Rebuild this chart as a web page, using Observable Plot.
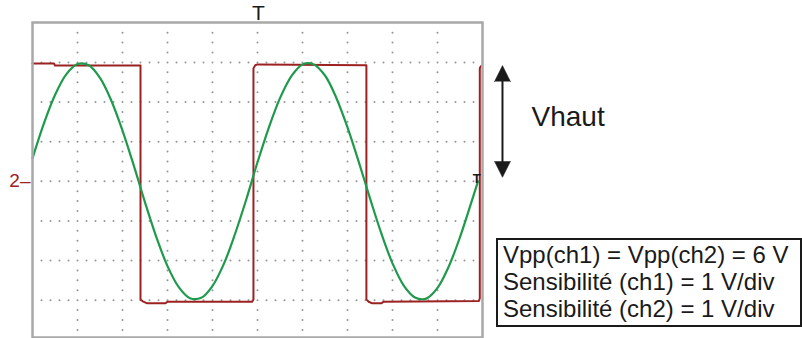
<!DOCTYPE html>
<html>
<head>
<meta charset="utf-8">
<script src="https://cdn.jsdelivr.net/npm/d3@7"></script>
<script src="https://cdn.jsdelivr.net/npm/@observablehq/plot@0.6"></script>
<style>
  html, body { margin: 0; padding: 0; background: #fff; }
  #wrap { position: relative; width: 802px; height: 338px; overflow: hidden; font-family: "Liberation Sans", Arial, sans-serif; }
  #info { position: absolute; left: 496px; top: 238px; width: 297px; height: 84px; border: 2px solid #1a1a1a;
          padding: 1px 0 0 5px; box-sizing: content-box; font-size: 24px; line-height: 27px; color: #1a1a1a; white-space: nowrap; }
</style>
</head>
<body>
<div id="wrap"></div>
<script>
// Channel 1 (square wave): time in divisions, voltage in volts (1 V/div)
const squareTime = [0, 0.48, 0.50, 2.40, 2.40, 2.45, 2.55, 2.95, 3.00, 4.88, 4.91, 4.91, 4.95, 5.00, 7.42, 7.42, 7.47, 7.55, 7.75, 7.80, 9.92, 9.94, 9.94, 9.96];
const squareVolt = [2.97, 2.97, 2.92, 2.92, -2.98, -3.03, -3.08, -3.08, -3.04, -3.04, -2.98, 2.85, 2.93, 2.95, 2.93, -2.98, -3.04, -3.08, -3.08, -3.04, -3.02, -2.95, 2.85, 2.90];

// Channel 2 (sine wave)
const sineTime = [0, 0.25, 0.5, 0.75, 1, 1.25, 1.5, 1.75, 2, 2.25, 2.5, 2.75, 3, 3.25, 3.5, 3.75, 4, 4.25, 4.5, 4.75,
                  5, 5.25, 5.5, 5.75, 6, 6.25, 6.5, 6.75, 7, 7.25, 7.5, 7.75, 8, 8.25, 8.5, 8.75, 9, 9.25, 9.5, 9.75, 9.9];
const sineVolt = [0.58, 1.45, 2.18, 2.70, 2.96, 2.93, 2.61, 2.04, 1.28, 0.40, -0.53, -1.40, -2.14, -2.67, -2.95, -2.94, -2.64, -2.09, -1.33, -0.46,
                  0.48, 1.35, 2.10, 2.65, 2.95, 2.95, 2.67, 2.11, 1.36, 0.49, -0.43, -1.31, -2.07, -2.63, -2.93, -2.96, -2.69, -2.15, -1.41, -0.54, 0.0];

// Markers and annotations
const triggerTime = [5.02];
const triggerLevel = [0];
const vhautRange = [0.10, 2.92];   // arrow from ground level to the high level
const infoLines = ["Vpp(ch1) = Vpp(ch2) = 6 V", "Sensibilité (ch1) = 1 V/div", "Sensibilité (ch2) = 1 V/div"];

const squareData = squareTime.map((t, i) => ({t, v: squareVolt[i]}));
const sineData = sineTime.map((t, i) => ({t, v: sineVolt[i]}));

// oscilloscope graticule (10 x 8 divisions)
const gridDots = [];
for (let xi = 1; xi <= 9; xi++) for (let k = -15; k <= 15; k++) gridDots.push({t: xi, v: k / 4});
for (let yi = -3; yi <= 3; yi++) for (let k = 1; k <= 49; k++) if (k % 5 !== 0) gridDots.push({t: k / 5, v: yi});

const red = "#9c2222", green = "#1f9a4c", ink = "#1a1a1a";
const arrowX = 10.444;

const chart = Plot.plot({
  width: 802,
  height: 338,
  marginLeft: 32,
  marginRight: 320,
  marginTop: 22,
  marginBottom: 1,
  x: {domain: [0, 10], axis: null},
  y: {domain: [-4, 4], range: [339.3, 22.3], axis: null},
  style: {background: "white", fontFamily: "Liberation Sans, Arial, sans-serif"},
  marks: [
    Plot.dot(gridDots, {x: "t", y: "v", r: 1, fill: "#959595", stroke: null}),
    Plot.line(squareData, {x: "t", y: "v", stroke: red, strokeWidth: 2, curve: "linear"}),
    Plot.line(sineData, {x: "t", y: "v", stroke: green, strokeWidth: 2.2, curve: "catmull-rom"}),
    Plot.frame({stroke: "#a8a8a8", strokeWidth: 2.5}),
    // trigger position marker
    Plot.text(triggerTime, {x: d => d, y: 4, text: () => "T", dy: -10, fontSize: 21, fill: ink}),
    // trigger level marker
    Plot.text(triggerLevel, {x: 9.87, y: d => d, text: () => "T", dy: -2, fontSize: 13, fill: ink, fontWeight: "bold"}),
    // channel ground marker
    Plot.text(triggerLevel, {x: 0, y: d => d, text: () => "2–", textAnchor: "end", dx: -2, dy: 0, fontSize: 19, fill: red}),
    // Vhaut double arrow
    Plot.ruleX([arrowX], {y1: vhautRange[0] + 0.3, y2: vhautRange[1] - 0.3, stroke: ink, strokeWidth: 2}),
    Plot.vector([vhautRange[1]], {x: arrowX, y: d => d, rotate: 0, shape: "spike", r: 8, length: 16, anchor: "end", fill: ink, stroke: ink, strokeWidth: 0.5}),
    Plot.vector([vhautRange[0]], {x: arrowX, y: d => d, rotate: 180, shape: "spike", r: 8, length: 16, anchor: "end", fill: ink, stroke: ink, strokeWidth: 0.5}),
    Plot.text(["Vhaut"], {frameAnchor: "top-left", dx: 499, dy: 95, textAnchor: "start", lineAnchor: "middle", fontSize: 28, fill: ink})
  ]
});

const wrap = document.getElementById("wrap");
wrap.appendChild(chart);
const info = document.createElement("div");
info.id = "info";
info.innerHTML = infoLines.map(s => `<div>${s}</div>`).join("");
wrap.appendChild(info);
</script>
</body>
</html>
